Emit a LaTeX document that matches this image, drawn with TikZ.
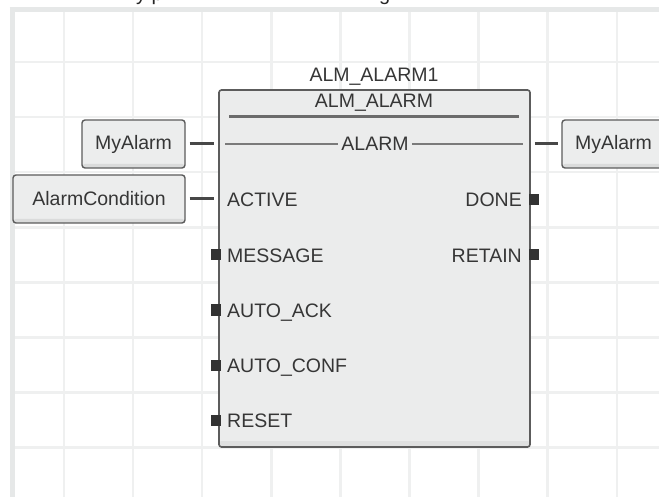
\documentclass[tikz,border=0pt]{standalone}
\usepackage{fontspec}
\setmainfont{Liberation Sans}
\usetikzlibrary{calc}
\definecolor{gridc}{HTML}{EFF0F0}
\definecolor{gridb}{HTML}{E6E8E8}
\definecolor{blkfill}{HTML}{EBECEC}
\definecolor{blkedge}{HTML}{5C5C5C}
\definecolor{boxfill}{HTML}{ECEDED}
\definecolor{boxshade}{HTML}{DADBDB}
\definecolor{txt}{HTML}{363636}
\definecolor{stubc}{HTML}{474747}
\definecolor{sepc}{HTML}{6B6B6B}
\definecolor{thinc}{HTML}{7A7A7A}
\definecolor{pinc}{HTML}{333333}
\begin{document}
\begin{tikzpicture}[x=1pt,y=-1pt,
  gridline/.style={draw=gridc, line width=2.5pt},
  gridborder/.style={draw=gridb, line width=5pt},
  lbl/.style={inner sep=0pt, text=txt, font=\fontsize{19.5}{22}\selectfont},
  varbox/.style={draw=blkedge, fill=boxfill, line width=1.4pt, rounded corners=3pt,
    inner sep=0pt, minimum height=48pt, text=txt, font=\fontsize{19.5}{22}\selectfont,
    path picture={\fill[boxshade] (path picture bounding box.south west) rectangle ([yshift=4pt]path picture bounding box.south east);}},
  blockbox/.style={draw=blkedge, fill=blkfill, line width=1.6pt, rounded corners=2.5pt,
    inner sep=0pt, minimum width=311pt, minimum height=357pt,
    path picture={\fill[boxshade!70!blkfill] (path picture bounding box.south west) rectangle ([yshift=6pt]path picture bounding box.south east);}},
  stub/.style={draw=stubc, line width=3pt},
  pinsq/.style={fill=pinc, draw=none, inner sep=0pt, minimum width=10pt, minimum height=11pt},
  frag/.style={inner sep=0pt, anchor=base west, text=black!85, font=\fontsize{20}{24}\selectfont}
]
\useasboundingbox (0,0) rectangle (659,497);
\fill[white] (0,0) rectangle (659,497);
% top cut-off caption fragments
\begin{scope}
  \clip (0,0) rectangle (659,6);
  \node[frag] (fy) at (136,0.5) {y};
  \node[frag] (fp) at (151.5,0.5) {p};
  \node[frag] (fg) at (379,0.5) {g};
\end{scope}
% grid
\foreach \k in {0,...,8} \draw[gridline] ({64+69.1*\k},10) -- ({64+69.1*\k},497);
\foreach \k in {0,...,7} \draw[gridline] (12,{62+55.1*\k}) -- (659,{62+55.1*\k});
\draw[gridborder] (12,7.5) -- (12,497);
\draw[gridborder] (9.5,10) -- (659,10);
% block
\node[blockbox] (blk) at (374.5,268.5) {};
\node[lbl, anchor=base] (title) at (374,82) {ALM\_ALARM1};
\node[lbl, anchor=base] (type) at (374,108) {ALM\_ALARM};
\draw[draw=sepc, line width=3pt] (229,117) -- (519,117);
\node[lbl, anchor=base, inner xsep=3pt] (alarm) at (375,151) {ALARM};
\draw[draw=thinc, line width=1.5pt] (225,144) -- (alarm.west |- 0,144);
\draw[draw=thinc, line width=1.5pt] (alarm.east |- 0,144) -- (523,144);
% variables
\node[varbox, minimum width=103pt] (myin) at (133.5,144) {MyAlarm};
\node[varbox, minimum width=172pt] (cond) at (99,199) {AlarmCondition};
\node[varbox, minimum width=103pt] (myout) at (613.5,144) {MyAlarm};
\draw[stub] ($(myin.east)+(4,0)$) -- ($(blk.west |- myin.east)+(-4,0)$);
\draw[stub] ($(cond.east)+(4,0)$) -- ($(blk.west |- cond.east)+(-4,0)$);
\draw[stub] ($(blk.east |- myout.west)+(4,0)$) -- ($(myout.west)+(-3,0)$);
% inputs
\node[lbl, anchor=base west] (lactive) at (227,207) {ACTIVE};
\node[lbl, anchor=base west] (lmsg) at (227,262) {MESSAGE};
\node[lbl, anchor=base west] (lack) at (227,317) {AUTO\_ACK};
\node[lbl, anchor=base west] (lconf) at (227,372) {AUTO\_CONF};
\node[lbl, anchor=base west] (lreset) at (227,427) {RESET};
\node[pinsq] (pmsg) at (215.5,255) {};
\node[pinsq] (pack) at (215.5,310) {};
\node[pinsq] (pconf) at (215.5,365) {};
\node[pinsq] (preset) at (215.5,420) {};
% outputs
\node[lbl, anchor=base east] (ldone) at (522,207) {DONE};
\node[lbl, anchor=base east] (lret) at (522,262) {RETAIN};
\node[pinsq] (pdone) at (533.5,200) {};
\node[pinsq] (pret) at (533.5,255) {};
\end{tikzpicture}
\end{document}
